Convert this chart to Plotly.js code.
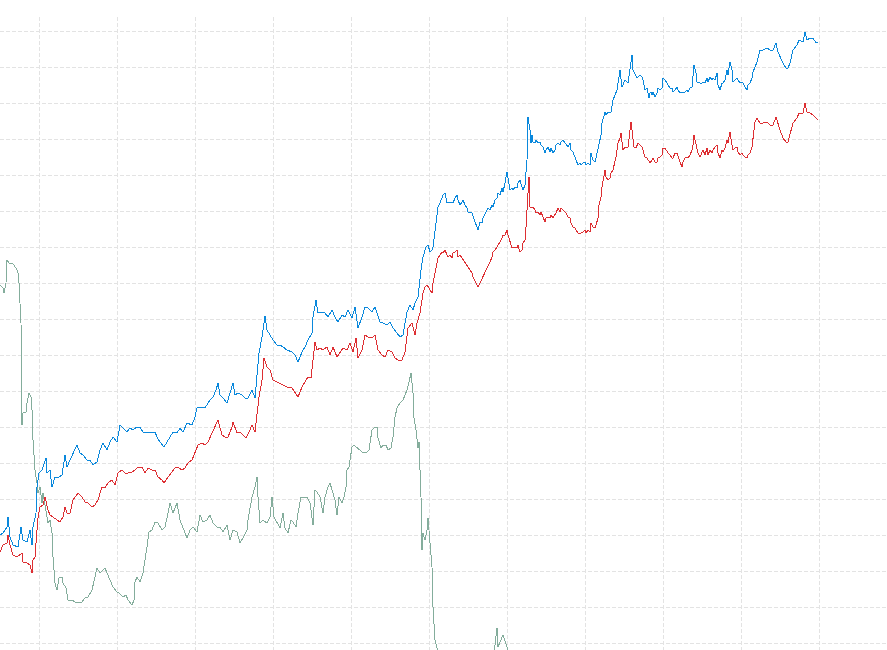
<!DOCTYPE html>
<html>
<head>
<meta charset="utf-8">
<script src="https://cdn.plot.ly/plotly-3.0.1.min.js"></script>
<style>
html,body{margin:0;padding:0;background:#fff}
#chart{width:887px;height:650px}
#chart path.js-line{shape-rendering:crispEdges}
</style>
</head>
<body>
<div id="chart"></div>
<script>
// Series A (blue)
const blueDay = [0,3,7,8,10,13,18,21,23,27,30,32,33,36,37,39,42,43,46,47,50,52,55,58,62,65,67,70,73,77,80,83,87,90,93,97,100,103,107,110,113,117,120,123,127,130,133,137,140,143,147,152,155,157,160,164,167,170,173,177,180,183,187,192,195,197,200,205,207,210,213,216,218,220,223,227,230,233,235,238,242,245,248,252,255,257,259,262,264,265,267,270,273,277,280,283,287,292,295,298,302,305,308,312,313,316,318,322,325,328,332,335,338,342,345,348,352,355,358,362,365,368,372,375,377,380,383,387,390,393,397,400,403,407,410,413,415,418,421,423,426,428,
  430,432,433,435,437,438,440,442,443,445,447,448,450,452,453,455,457,458,460,462,463,465,467,468,470,472,473,475,477,478,480,482,483,485,487,488,490,492,493,495,497,498,500,502,503,505,507,508,510,512,513,515,517,518,520,522,523,525,527,528,530,531,532,533,535,536,538,540,541,543,545,546,548,550,551,553,555,556,558,560,561,563,565,566,568,570,571,573,575,576,578,580,581,583,585,586,588,590,591,593,595,596,598,600,601,602,603,605,606,608,611,613,617,620,622,625,628,632,633,637,
  640,642,643,645,647,649,650,651,652,653,655,657,658,660,662,663,665,667,668,670,672,673,675,677,678,680,682,683,685,687,688,690,692,693,694,696,697,698,700,702,703,705,707,708,710,712,713,715,717,718,720,722,723,725,727,728,730,732,733,735,737,738,740,742,743,745,747,748,750,752,753,755,757,
  760,763,767,770,773,776,778,780,783,786,788,790,793,797,799,803,805,807,810,813,816,818];
const blueVal = [115,117,123,133,113,105,103,123,110,108,120,105,123,137,163,177,180,183,192,177,180,163,173,172,175,195,183,190,197,205,197,195,190,190,185,188,200,207,200,208,213,208,225,222,218,222,220,223,223,218,218,217,218,213,208,203,208,213,218,217,222,218,227,225,233,242,243,242,245,250,253,260,267,255,252,247,257,267,255,257,255,252,252,260,252,273,297,313,330,334,320,315,310,305,305,303,300,298,295,288,298,303,310,317,333,350,337,338,337,333,340,333,328,335,333,340,332,343,322,333,343,342,338,343,337,328,327,325,328,322,317,313,315,338,345,340,347,353,380,393,403,405,
  398,400,403,420,433,443,447,452,455,457,447,448,447,448,447,452,455,450,445,448,450,445,442,438,438,437,433,428,423,420,428,427,432,437,440,442,440,445,443,450,452,457,455,462,458,467,478,472,460,462,460,463,462,467,470,463,460,465,490,533,520,507,515,508,507,510,507,508,505,503,497,500,503,498,502,497,500,505,507,505,508,510,507,505,503,507,500,498,492,490,485,487,485,487,488,485,487,485,497,490,488,492,500,510,515,527,530,538,535,538,538,550,560,580,563,570,567,595,580,572,
  575,573,570,560,562,552,557,558,555,558,553,557,562,560,562,572,570,567,565,562,562,558,560,563,560,557,558,557,558,560,558,562,563,575,585,577,568,568,567,567,568,567,572,568,573,570,572,570,577,565,560,567,567,570,580,575,588,580,568,570,572,570,567,568,567,563,560,565,567,572,578,583,588,
  600,600,602,600,600,607,598,593,587,582,582,587,600,605,610,608,618,610,612,612,607,608];

// Series B (red)
const redDay = [0,3,7,8,10,13,17,20,22,23,27,30,32,33,35,37,38,40,43,45,47,48,50,53,57,60,63,65,67,70,73,75,78,82,85,88,92,95,98,102,105,108,112,115,118,122,125,128,132,135,138,142,145,148,152,155,158,162,164,168,172,175,178,182,185,188,192,195,198,202,205,208,212,215,218,222,225,228,232,233,237,240,243,246,249,252,255,257,259,262,264,267,270,273,277,280,283,287,292,295,298,302,305,308,311,313,315,317,320,323,327,330,333,337,340,343,347,350,353,356,358,362,365,368,372,375,378,382,385,388,392,395,398,402,405,408,412,415,417,420,423,425,427,
  430,432,433,435,437,438,440,442,443,445,447,448,450,452,453,455,457,458,460,462,463,465,467,468,470,472,473,475,477,478,480,482,483,485,487,488,490,492,493,495,497,498,500,502,503,505,507,508,510,512,513,515,517,518,520,522,523,525,526,527,528,529,530,531,533,535,536,538,540,541,543,545,546,548,550,551,553,555,556,558,560,561,563,565,566,568,570,571,573,575,576,578,580,581,583,585,586,588,590,591,593,595,596,598,599,601,602,603,605,606,608,610,611,613,615,616,618,620,621,622,623,625,626,628,630,631,632,634,636,638,
  640,642,643,645,647,648,650,652,653,655,657,658,660,662,663,665,667,668,670,672,673,675,677,678,680,682,683,685,687,688,690,692,693,694,696,697,698,700,702,703,705,707,708,710,712,713,715,717,718,720,722,723,725,727,728,730,732,733,735,737,738,740,742,743,745,747,748,750,752,753,755,757,
  760,763,767,770,773,776,778,780,783,786,788,790,793,797,799,803,805,807,810,813,816,818];
const redVal = [98,105,107,115,105,95,93,95,97,88,87,85,77,90,93,120,132,143,145,153,143,140,135,133,130,128,133,143,137,137,150,153,157,153,148,147,143,145,150,163,162,167,170,165,177,180,177,177,178,180,183,183,177,182,180,180,173,170,167,173,178,182,183,180,182,187,190,197,205,207,205,208,217,222,230,215,213,213,223,228,217,218,215,212,218,225,218,237,253,270,292,283,280,270,268,267,265,263,262,258,253,263,268,273,272,288,308,300,302,300,303,295,303,293,298,302,300,307,298,312,292,300,315,313,312,315,300,295,293,300,298,292,290,290,298,322,327,315,327,337,357,363,365,
  360,357,367,377,387,392,395,398,397,400,395,393,395,392,397,398,400,393,395,392,390,388,385,383,380,377,373,368,365,363,367,372,373,378,382,383,388,393,398,400,403,405,408,412,415,415,420,415,407,402,403,403,402,405,398,400,407,410,423,437,460,473,443,442,443,440,437,438,435,438,433,428,432,433,432,435,432,435,437,442,438,442,440,438,437,433,432,427,423,422,420,417,417,417,418,420,417,420,418,427,423,422,425,432,445,453,463,470,480,473,470,472,477,480,488,493,507,512,517,507,500,503,502,503,517,528,520,503,502,507,
  505,503,500,493,492,490,487,490,492,488,488,492,493,495,502,502,498,497,495,492,492,497,497,493,488,483,488,492,493,492,495,500,505,515,507,500,497,493,497,500,495,502,495,500,497,500,503,505,497,492,500,498,502,510,507,518,505,500,502,503,498,495,497,495,493,492,495,497,503,512,528,532,
  527,527,528,525,525,533,525,520,512,508,508,515,527,532,537,537,547,538,537,535,532,530];

// Series C (grey-green)
const greyDay = [0,3,4,6,7,9,12,14,17,18,19,21,21.5,22,23,26,27,29,31,32,33,35,37,38,40,42,43,45,47,48,50,52,53,55,57,59,62,63,66,68,72,75,78,82,85,88,92,95,97,100,103,105,107,110,113,117,119,123,126,128,132,134,135,137,140,143,145,147,149,152,155,158,162,165,168,170,173,177,180,183,187,190,193,197,200,203,207,210,213,217,220,223,227,230,233,237,240,243,247,248,252,255,257,258,260,263,267,270,272,274,277,280,283,285,288,291,293,296,298,301,304,307,310,313,315,317,320,323,325,328,330,333,335,337,339,342,344,346,347,349,352,354,357,359,362,364,367,369,372,374,377,378,381,383,386,388,391,393,395,397,400,403,405,407,409,411,413,414,416,418,419,421,422,423,425,427,428,430,432,433,434,435,437,445,460,480,492,495,497,498,502,503,507,512,525];
const greyVal = [365,362,357,367,390,387,387,385,380,377,367,327,277,225,237,238,247,257,253,240,210,180,167,157,163,147,157,143,130,127,130,117,93,67,60,72,73,67,62,50,50,48,47,48,52,53,60,73,82,77,80,82,77,70,63,58,57,53,55,50,45,50,68,73,68,77,93,103,118,120,128,127,120,123,137,147,137,147,130,123,112,120,123,118,135,128,130,135,127,123,123,118,125,110,120,118,107,112,120,130,153,163,173,153,127,130,127,133,153,133,127,122,137,122,117,130,128,123,137,153,152,153,147,125,160,158,153,137,153,163,167,155,150,135,153,147,153,163,180,183,203,205,202,200,198,197,198,200,220,222,223,212,202,205,205,200,202,213,233,242,247,250,255,260,268,277,257,232,220,202,208,153,100,117,110,120,132,103,83,43,23,10,2,-30,-50,-40,-20,2,22,3,13,15,3,-25,-50];

const gridStyle = {
  showgrid: true, gridcolor: '#e3e3e3', gridwidth: 1, griddash: '4px,2px',
  zeroline: false, showline: false, showticklabels: false, ticks: '', fixedrange: true
};

const traces = [
  {x: greyDay, y: greyVal, type: 'scatter', mode: 'lines', line: {color: '#84ad9c', width: 1}, hoverinfo: 'skip'},
  {x: redDay, y: redVal, type: 'scatter', mode: 'lines', line: {color: '#dd2f33', width: 1}, hoverinfo: 'skip'},
  {x: blueDay, y: blueVal, type: 'scatter', mode: 'lines', line: {color: '#0a88dc', width: 1}, hoverinfo: 'skip'}
];

const layout = {
  width: 887, height: 650,
  margin: {l: 0, r: 0, t: 17, b: 0, pad: 0},
  paper_bgcolor: '#ffffff', plot_bgcolor: '#ffffff',
  showlegend: false,
  xaxis: Object.assign({range: [0, 887], tick0: 39, dtick: 78}, gridStyle),
  yaxis: Object.assign({range: [0, 633], tick0: 7, dtick: 36}, gridStyle)
};

Plotly.newPlot('chart', traces, layout, {displayModeBar: false, staticPlot: true});
</script>
</body>
</html>
